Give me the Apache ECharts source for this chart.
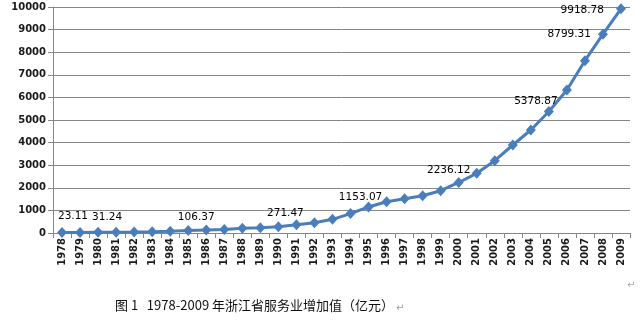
<!DOCTYPE html>
<html>
<head>
<meta charset="utf-8">
<script src="https://cdn.jsdelivr.net/npm/echarts@6/dist/echarts.min.js"></script>
<style>
  html, body { margin: 0; padding: 0; background: #fff; }
  #chart { width: 644px; height: 332px; }
</style>
</head>
<body>
<div id="chart"></div>
<script>
// Zhejiang service-sector value added, 1978-2009 (100 million yuan)
const years = ['1978','1979','1980','1981','1982','1983','1984','1985','1986','1987',
  '1988','1989','1990','1991','1992','1993','1994','1995','1996','1997','1998','1999',
  '2000','2001','2002','2003','2004','2005','2006','2007','2008','2009'];
const values = [23.11, 27, 31.24, 37, 45, 55, 75, 106.37, 128, 150,
  205, 235, 271.47, 360, 450, 605, 860, 1153.07, 1385, 1515, 1650, 1870,
  2236.12, 2640, 3200, 3894, 4558, 5378.87, 6328, 7624, 8799.31, 9918.78];
// years whose values are printed next to the point
const labelledYears = ['1978','1980','1985','1990','1995','2000','2005','2008','2009'];
const yTicks = { min: 0, max: 10000, step: 1000 };
const caption = '图 1   1978-2009 年浙江省服务业增加值（亿元）';

// label placement around each printed point
const labelPlacement = {
  '1978': { position: 'top', offset: [11, 0] },
  '1980': { position: 'top', offset: [9, 1] },
  '1985': { position: 'top', offset: [8, 3] },
  '1990': { position: 'top', offset: [7, 2] },
  '1995': { position: 'top', offset: [-8, 6] },
  '2000': { position: 'top', offset: [-10, 4] },
  '2005': { position: 'top', offset: [-13, 6] },
  '2008': { position: 'left', offset: [-2, 0] },
  '2009': { position: 'left', offset: [-7, 1] }
};

const seriesData = values.map((v, i) => {
  const y = years[i];
  if (labelledYears.indexOf(y) < 0) return v;
  const p = labelPlacement[y];
  return {
    value: v,
    label: {
      show: true,
      position: p.position,
      offset: p.offset,
      formatter: () => v.toFixed(2)
    }
  };
});

const chart = echarts.init(document.getElementById('chart'), null, { renderer: 'canvas' });
const axisGray = '#868686';

chart.setOption({
  animation: false,
  backgroundColor: '#ffffff',
  grid: { left: 53, right: 14, top: 7, bottom: 99, containLabel: false },
  xAxis: {
    type: 'category',
    data: years,
    boundaryGap: true,
    axisLine: { lineStyle: { color: axisGray, width: 1 } },
    axisTick: { show: true, length: 5, lineStyle: { color: axisGray } },
    axisLabel: {
      rotate: 90,
      interval: 0,
      margin: 5,
      color: '#1a1a1a',
      fontFamily: 'DejaVu Sans',
      fontWeight: 'bold',
      fontSize: 10
    }
  },
  yAxis: {
    type: 'value',
    min: yTicks.min,
    max: yTicks.max,
    interval: yTicks.step,
    axisLine: { show: true, lineStyle: { color: axisGray, width: 1 } },
    axisTick: { show: true, length: 5, lineStyle: { color: axisGray } },
    splitLine: { lineStyle: { color: axisGray, width: 1 } },
    axisLabel: {
      margin: 7,
      color: '#1a1a1a',
      fontFamily: 'DejaVu Sans',
      fontWeight: 'bold',
      fontSize: 10,
      formatter: (v) => String(v)
    }
  },
  series: [{
    type: 'line',
    data: seriesData,
    symbol: 'diamond',
    symbolSize: [10, 11],
    showAllSymbol: true,
    lineStyle: { color: '#4a7ebb', width: 3 },
    itemStyle: { color: '#4a7ebb' },
    label: {
      show: false,
      color: '#000',
      fontFamily: 'DejaVu Sans',
      fontSize: 10.5
    }
  }],
  graphic: [
    {
      type: 'text',
      left: 115,
      top: 299,
      style: {
        text: caption,
        fill: '#111',
        font: '13px "Noto Sans CJK SC"'
      }
    },
    {
      type: 'text',
      left: 396,
      top: 303,
      style: { text: '↵', fill: '#999', font: '10px "DejaVu Sans"' }
    },
    {
      type: 'text',
      left: 627,
      top: 280,
      style: { text: '↵', fill: '#aaa', font: '10px "DejaVu Sans"' }
    }
  ]
});
</script>
</body>
</html>
